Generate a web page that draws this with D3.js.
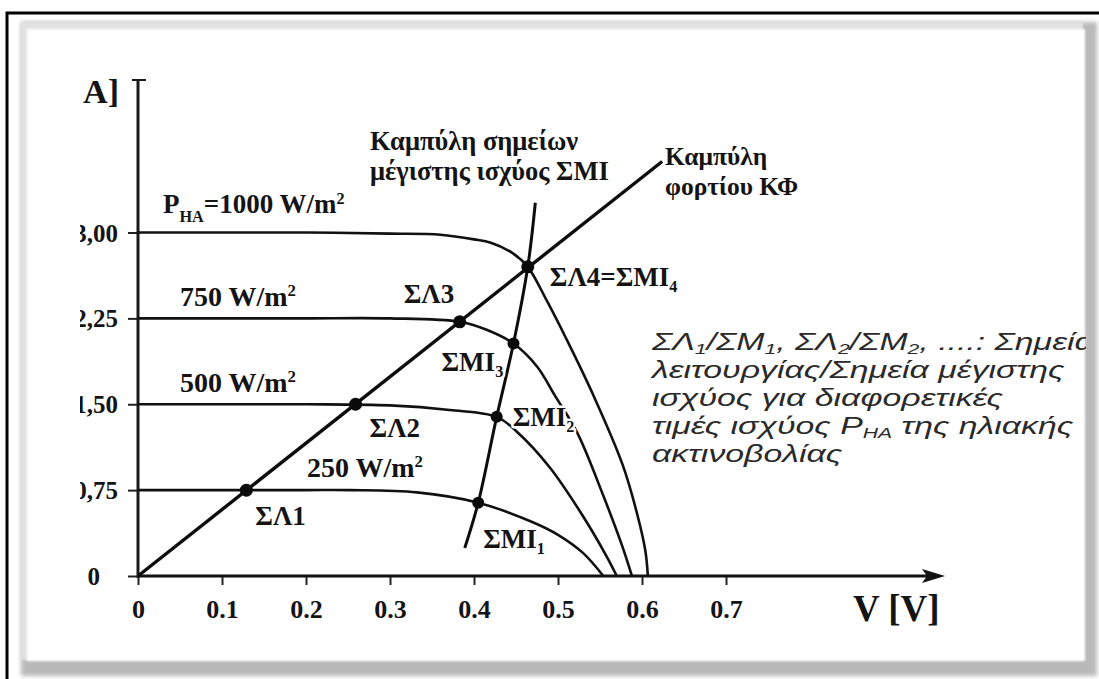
<!DOCTYPE html>
<html>
<head>
<meta charset="utf-8">
<script src="https://cdn.jsdelivr.net/npm/d3@7"></script>
<style>
  html, body { margin: 0; padding: 0; background: #fff; }
  svg { display: block; }
  .serif { font-family: "Liberation Serif", "Times New Roman", serif; font-weight: bold; fill: #141414; }
  .note { font-family: "Liberation Sans", Arial, sans-serif; font-style: italic; fill: #2a2a2a; }
</style>
</head>
<body>
<svg id="chart" width="1099" height="679"></svg>
<script>
// ---- Data: I–V characteristics of a PV cell for four irradiance levels ----
const voltage1000 = [0, 0.10, 0.20, 0.30, 0.36, 0.40, 0.42, 0.446, 0.464, 0.487, 0.51, 0.542, 0.577, 0.595, 0.604, 0.607];
const current1000 = [3.00, 3.00, 3.00, 2.99, 2.98, 2.94, 2.91, 2.82, 2.70, 2.40, 2.07, 1.58, 0.97, 0.52, 0.22, 0];

const voltage750 = [0, 0.10, 0.20, 0.30, 0.383, 0.415, 0.447, 0.475, 0.496, 0.523, 0.554, 0.577, 0.588];
const current750 = [2.25, 2.25, 2.25, 2.25, 2.22, 2.15, 2.03, 1.83, 1.58, 1.25, 0.70, 0.25, 0];

const voltage500 = [0, 0.10, 0.20, 0.30, 0.371, 0.427, 0.451, 0.49, 0.53, 0.558, 0.570];
const current500 = [1.50, 1.50, 1.50, 1.49, 1.45, 1.39, 1.26, 0.95, 0.52, 0.17, 0];

const voltage250 = [0, 0.10, 0.20, 0.252, 0.332, 0.405, 0.47, 0.50, 0.53, 0.554];
const current250 = [0.75, 0.75, 0.75, 0.75, 0.73, 0.64, 0.47, 0.36, 0.20, 0];

// Load line (ΚΦ) and maximum-power-point curve (ΣΜΙ)
const loadVoltage = [0, 0.624];
const loadCurrent = [0, 3.62];
const mppVoltage = [0.389, 0.405, 0.427, 0.447, 0.464, 0.473];
const mppCurrent = [0.245, 0.64, 1.39, 2.03, 2.70, 3.26];

// Operating points ΣΛ and maximum power points ΣΜΙ
const opVoltage = [0.129, 0.259, 0.383, 0.464];
const opCurrent = [0.75, 1.50, 2.22, 2.70];
const mpVoltage = [0.405, 0.427, 0.447];
const mpCurrent = [0.64, 1.39, 2.03];

// Axis ticks
const xTicks = [0, 0.1, 0.2, 0.3, 0.4, 0.5, 0.6, 0.7];
const xTickLabels = ["0", "0.1", "0.2", "0.3", "0.4", "0.5", "0.6", "0.7"];
const yTicks = [0, 0.75, 1.5, 2.25, 3.0];
const yTickLabels = ["0", "0,75", "1,50", "2,25", "3,00"];

// Irradiance labels
const irradianceValues = ["1000", "750", "500", "250"];

const svg = d3.select("#chart");
const defs = svg.append("defs");

defs.append("filter").attr("id", "soft").attr("x", "-5%").attr("y", "-5%").attr("width", "110%").attr("height", "110%")
  .append("feGaussianBlur").attr("stdDeviation", 2.2);
defs.append("filter").attr("id", "soft2").attr("x", "-5%").attr("y", "-5%").attr("width", "110%").attr("height", "110%")
  .append("feGaussianBlur").attr("stdDeviation", 1.2);

// Frame: black border and bevelled white panel
svg.append("rect").attr("x", 0).attr("y", 0).attr("width", 1099).attr("height", 679).attr("fill", "#fff");
svg.append("rect").attr("x", 7).attr("y", 13).attr("width", 1120).attr("height", 700)
  .attr("fill", "#fff").attr("stroke", "#000").attr("stroke-width", 3);
svg.append("rect").attr("x", 21).attr("y", 22).attr("width", 1076).attr("height", 654)
  .attr("fill", "#b9b9b9").attr("filter", "url(#soft)");
svg.append("rect").attr("x", 21).attr("y", 22).attr("width", 1062).attr("height", 638)
  .attr("fill", "#e2e2e2").attr("filter", "url(#soft2)");
svg.append("rect").attr("x", 27).attr("y", 29).attr("width", 1058).attr("height", 632)
  .attr("fill", "#fff").attr("filter", "url(#soft2)");

defs.append("clipPath").attr("id", "scan")
  .append("rect").attr("x", 80).attr("y", 30).attr("width", 1006).attr("height", 630);
defs.append("clipPath").attr("id", "titleClip")
  .append("rect").attr("x", 83).attr("y", 30).attr("width", 200).attr("height", 200);

const g = svg.append("g").attr("clip-path", "url(#scan)");

const x = d3.scaleLinear().domain([0, 0.7]).range([138, 726]);
const y = d3.scaleLinear().domain([0, 3]).range([576, 232.5]);

const lineSmooth = d3.line().x(d => x(d[0])).y(d => y(d[1])).curve(d3.curveCatmullRom.alpha(0.5));
const lineStraight = d3.line().x(d => x(d[0])).y(d => y(d[1]));

const zip = (a, b) => a.map((v, i) => [v, b[i]]);

// Axes
const xAxis = d3.axisBottom(x).tickValues(xTicks).tickSize(9).tickFormat((d, i) => xTickLabels[i]);
const gx = g.append("g").attr("transform", `translate(0,${y(0)})`).call(xAxis);
gx.select(".domain").remove();
gx.selectAll(".tick line").attr("stroke", "#222").attr("stroke-width", 2);
gx.selectAll(".tick text").attr("class", "serif").attr("font-size", 26).attr("y", 42).attr("dy", 0)
  .attr("font-family", null);

const yAxis = d3.axisLeft(y).tickValues(yTicks).tickSize(10).tickPadding(10).tickFormat((d, i) => yTickLabels[i]);
const gy = g.append("g").attr("transform", `translate(${x(0)},0)`).call(yAxis);
gy.select(".domain").remove();
gy.selectAll(".tick line").attr("stroke", "#222").attr("stroke-width", 2);
gy.selectAll(".tick text").attr("class", "serif").attr("font-size", 25).attr("dy", "0.34em")
  .attr("font-family", null);
gy.selectAll(".tick text").filter(d => d === 0).attr("x", -38);

// Axis lines
const axisTopY = 80, axisEndX = 945;
g.append("line").attr("x1", x(0)).attr("x2", x(0)).attr("y1", y(0) + 2).attr("y2", axisTopY)
  .attr("stroke", "#1a1a1a").attr("stroke-width", 3);
g.append("line").attr("x1", x(0) - 6).attr("x2", x(0) + 8).attr("y1", axisTopY).attr("y2", axisTopY)
  .attr("stroke", "#1a1a1a").attr("stroke-width", 2);
g.append("line").attr("x1", x(0)).attr("x2", axisEndX - 12).attr("y1", y(0)).attr("y2", y(0))
  .attr("stroke", "#111").attr("stroke-width", 3);
g.append("path").attr("d", `M${axisEndX},${y(0)} L${axisEndX - 23},${y(0) - 7} L${axisEndX - 18},${y(0)} L${axisEndX - 23},${y(0) + 7} Z`)
  .attr("fill", "#111");

// I–V curves
const curves = [zip(voltage1000, current1000), zip(voltage750, current750), zip(voltage500, current500), zip(voltage250, current250)];
g.selectAll("path.iv").data(curves).join("path").attr("class", "iv")
  .attr("d", lineSmooth).attr("fill", "none").attr("stroke", "#111").attr("stroke-width", 2.6);

// Load line and MPP curve
g.append("path").datum(zip(loadVoltage, loadCurrent)).attr("d", lineStraight)
  .attr("fill", "none").attr("stroke", "#0d0d0d").attr("stroke-width", 3.4);
g.append("path").datum(zip(mppVoltage, mppCurrent)).attr("d", lineSmooth)
  .attr("fill", "none").attr("stroke", "#0d0d0d").attr("stroke-width", 3);

// Labels with white halo (drawn before the dots)
function label(px, py, parts, size) {
  const t = g.append("text").attr("class", "serif").attr("x", px).attr("y", py).attr("font-size", size)
    .attr("stroke", "#fff").attr("stroke-width", 5).attr("paint-order", "stroke").attr("stroke-linejoin", "round");
  parts.forEach(p => {
    const s = t.append("tspan").text(p.t);
    if (p.small) s.attr("font-size", size * 0.6);
    if (p.dy) s.attr("dy", p.dy);
  });
  return t;
}

const opPts = zip(opVoltage, opCurrent);
const mpPts = zip(mpVoltage, mpCurrent);

// operating point labels
const opOffsets = [[9, 35], [14, 33], [-56, -19], [22, 19]];
opPts.forEach((p, i) => {
  const [dx, dy] = opOffsets[i];
  if (i < 3) label(x(p[0]) + dx, y(p[1]) + dy, [{ t: "ΣΛ" + (i + 1) }], 27);
  else label(x(p[0]) + dx, y(p[1]) + dy, [{ t: "ΣΛ4=ΣΜΙ" }, { t: "4", small: true, dy: 6 }], 27);
});
const mpOffsets = [[5, 45], [16, 9], [-72, 27]];
mpPts.forEach((p, i) => {
  const [dx, dy] = mpOffsets[i];
  label(x(p[0]) + dx, y(p[1]) + dy, [{ t: "ΣΜΙ" }, { t: String(i + 1), small: true, dy: 6 }], 27);
});

// irradiance labels
const irrPos = [[163, -20], [180, -12], [180, -12], [307, -13]];
const iscValues = [current1000[0], current750[0], current500[0], current250[0]];
irradianceValues.forEach((v, i) => {
  const [px, dy] = irrPos[i];
  const py = y(iscValues[i]) + dy;
  if (i === 0) {
    label(px, py, [{ t: "P" }, { t: "HA", small: true, dy: 9 }, { t: "=" + v + " W/m", dy: -9 }, { t: "2", small: true, dy: -9 }], 27);
  } else {
    label(px, py, [{ t: v + " W/m" }, { t: "2", small: true, dy: -10 }], 28);
  }
});

// dots
g.selectAll("circle.op").data(opPts).join("circle").attr("class", "op")
  .attr("cx", d => x(d[0])).attr("cy", d => y(d[1])).attr("r", 6.5).attr("fill", "#0a0a0a");
g.selectAll("circle.mp").data(mpPts).join("circle").attr("class", "mp")
  .attr("cx", d => x(d[0])).attr("cy", d => y(d[1])).attr("r", 6).attr("fill", "#0a0a0a");

// Curve titles
label(370, 150, [{ t: "Καμπύλη σημείων" }], 26.5);
label(370, 180, [{ t: "μέγιστης ισχύος  ΣΜΙ" }], 26.5);
label(665, 165, [{ t: "Καμπύλη" }], 25.5);
label(665, 195, [{ t: "φορτίου ΚΦ" }], 25.5);

// Axis titles
svg.append("g").attr("clip-path", "url(#titleClip)")
  .append("text").attr("class", "serif").attr("x", 119).attr("y", 103).attr("font-size", 34)
  .attr("text-anchor", "end").text("I [A]");
g.append("text").attr("class", "serif").attr("x", 853).attr("y", 621).attr("font-size", 37).text("V [V]");

// Explanatory note: a list of segments per line, subscripts marked
const noteLines = [
  [["ΣΛ"], ["1", 1], ["/ΣΜ"], ["1", 1], [", ΣΛ"], ["2", 1], ["/ΣΜ"], ["2", 1], [", ....: Σημεία"]],
  [["λειτουργίας/Σημεία μέγιστης"]],
  [["ισχύος για διαφορετικές"]],
  [["τιμές ισχύος P"], ["HA", 1], [" της ηλιακής"]],
  [["ακτινοβολίας"]]
];
const noteG = g.append("g").attr("transform", "translate(652,0) scale(1.41,1)");
const note = noteG.append("text").attr("class", "note").attr("font-size", 24);
noteLines.forEach((segs, li) => {
  const line = note.append("tspan").attr("x", 0).attr("y", 350 + li * 28);
  let shifted = false;
  segs.forEach(([txt, sub]) => {
    const s = line.append("tspan").text(txt);
    if (sub && !shifted) { s.attr("dy", 4); shifted = true; }
    else if (!sub && shifted) { s.attr("dy", -4); shifted = false; }
    if (sub) s.attr("font-size", 15);
  });
});
</script>
</body>
</html>
